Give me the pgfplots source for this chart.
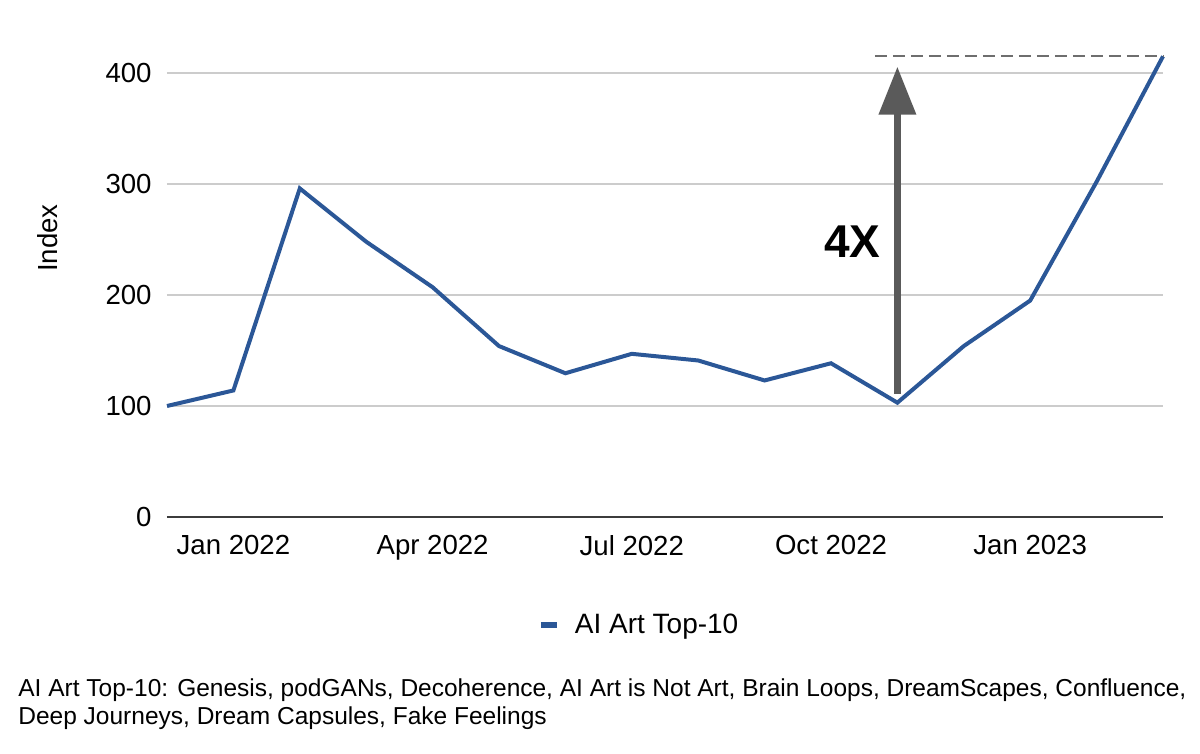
\documentclass[border=0pt]{standalone}
\usepackage{pgfplots}
\pgfplotsset{compat=1.18}
\usepackage{fontspec}
\setmainfont{Liberation Sans}
\usetikzlibrary{arrows.meta}
\definecolor{lineblue}{RGB}{43,87,151}
\definecolor{arrowgray}{RGB}{90,90,90}
\definecolor{dashgray}{RGB}{110,110,110}
\definecolor{gridgray}{RGB}{204,204,204}
\definecolor{axisgray}{RGB}{60,60,60}
\begin{document}
\begin{tikzpicture}
\begin{axis}[
  scale only axis, width=498pt, height=233.1pt,
  xmin=0, xmax=15, ymin=0, ymax=420,
  clip=false,
  axis line style={draw=none},
  major tick length=0pt,
  xtick={1,4,7,10,13},
  xticklabels={Jan 2022, Apr 2022, Jul 2022, Oct 2022, Jan 2023},
  ytick={100,200,300,400},
  extra y ticks={0},
  extra y tick style={grid style={axisgray, line width=1pt}},
  ymajorgrids=true,
  grid style={gridgray, line width=0.75pt},
  /pgf/number format/assume math mode=true,
  tick label style={font=\fontsize{13.8}{16}\selectfont},
  yticklabel style={anchor=east, inner sep=0pt, xshift=-7.5pt},
  xticklabel style={anchor=north, inner sep=0pt, yshift=-9pt},
  ylabel={Index},
  ylabel style={font=\fontsize{13.8}{16}\selectfont, at={(axis description cs:0,0.598)}, anchor=center, xshift=0pt, yshift=59.5pt},
  legend style={at={(axis description cs:0.475,-0.232)}, anchor=center, draw=none, font=\fontsize{14}{16}\selectfont},
  legend image code/.code={\draw[line width=3pt] (0pt,0pt) -- (8pt,0pt); \path[draw=none] (0pt,0pt) -- (15pt,0pt);},
]
\addplot[lineblue, line width=2pt] coordinates {
(0,100) (1,114) (2,296) (3,248) (4,207) (5,154) (6,129.5) (7,147)
(8,141) (9,123) (10,138.5) (11,103) (12,154) (13,195) (14,302) (15,415)
};
\addlegendentry{AI Art Top-10}
\draw[dashgray, line width=1pt, dash pattern=on 6pt off 3pt] (axis cs:10.66,415) -- (axis cs:15,415);
\draw[arrowgray, line width=3.5pt, -{Triangle[width=18pt,length=24pt]}] (axis cs:11,111) -- (axis cs:11,405.7);
\node[font=\fontsize{23}{27}\selectfont\bfseries] at (axis cs:10.32,248.2) {4X};
\end{axis}
\node[anchor=north west, inner sep=0pt, align=left, font=\fontsize{12.25}{14}\selectfont] at ([shift={(-74.5pt,-80.5pt)}]current axis.south west)
{AI Art Top-10: Genesis, podGANs, Decoherence, AI Art is Not Art, Brain Loops, DreamScapes, Confluence,\\ Deep Journeys, Dream Capsules, Fake Feelings};
\pgfresetboundingbox
\path[use as bounding box] ([shift={(-83.5pt,-118.5pt)}]current axis.south west) rectangle ([shift={(516.5pt,258.5pt)}]current axis.south west);
\end{tikzpicture}
\end{document}
